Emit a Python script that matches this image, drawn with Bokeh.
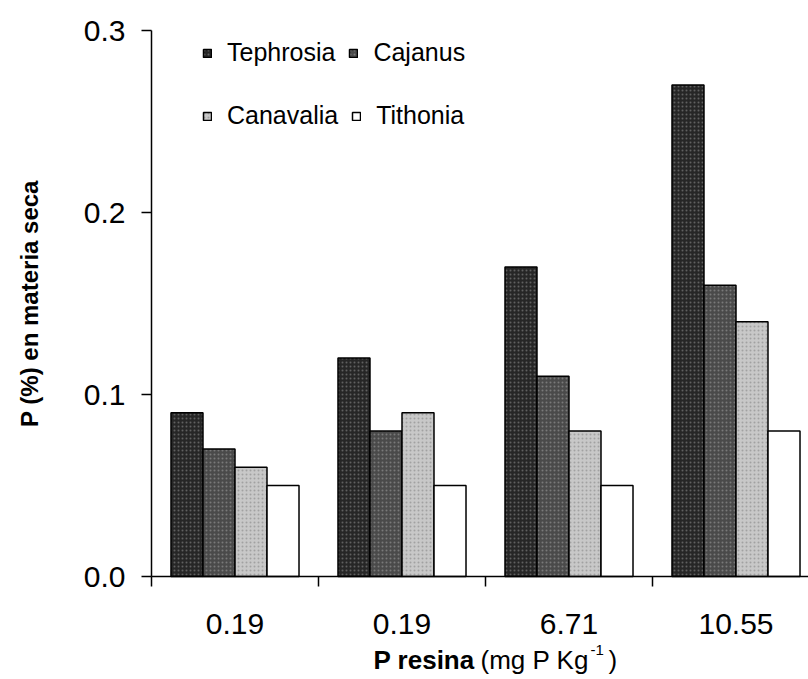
import math
from bokeh.plotting import figure
from bokeh.models import ColumnDataSource, Range1d, FixedTicker, Legend, LegendItem, Label
from bokeh.transform import dodge
from bokeh.embed import file_html
from bokeh.resources import INLINE

# ---- data ----
resina_labels = ["0.19", "0.19", "6.71", "10.55"]
tephrosia = [0.09, 0.12, 0.17, 0.27]
cajanus = [0.07, 0.08, 0.11, 0.16]
canavalia = [0.06, 0.09, 0.08, 0.14]
tithonia = [0.05, 0.05, 0.05, 0.08]
series_names = ["Tephrosia", "Cajanus", "Canavalia", "Tithonia"]
y_ticks = [0.0, 0.1, 0.2, 0.3]
y_tick_labels = ["0.0", "0.1", "0.2", "0.3"]

FONT = "Liberation Sans"
W, H = 808, 679

# screen layout (pixels): axis origin and scales
ORIG_X, ORIG_Y = 151, 576
PX_X = 167.0          # pixels per category
PX_Y = 546 / 0.3      # pixels per unit of P

def sx(px):  # screen x -> data x
    return (px - ORIG_X) / PX_X

def sy(py):  # screen y (from top) -> data y
    return (ORIG_Y - py) / PX_Y

X_END = sx(W)

xpos = [i + 0.5 for i in range(len(resina_labels))]
src = ColumnDataSource(dict(x=xpos, Tephrosia=tephrosia, Cajanus=cajanus,
                            Canavalia=canavalia, Tithonia=tithonia))

p = figure(width=W, height=H,
           x_range=Range1d(sx(0), sx(W)), y_range=Range1d(sy(H), sy(0)),
           output_backend="svg", toolbar_location=None,
           min_border=0, min_border_left=0, min_border_right=0,
           min_border_top=0, min_border_bottom=0)

p.grid.visible = False
p.outline_line_color = None
p.background_fill_color = "white"
p.border_fill_color = "white"

fills = ["#262626", "#4a4a4a", "#c8c8c8", "#ffffff"]
hatch_cols = ["#9a9a9a", "#a8a8a8", "#7a7a7a", None]
offsets = [-0.2875, -0.0958, 0.0958, 0.2875]
bw = 0.1916
renderers = []
for name, col, hc, off in zip(series_names, fills, hatch_cols, offsets):
    kw = {}
    if hc is not None:
        kw = dict(hatch_pattern="dot", hatch_color=hc, hatch_alpha=0.5,
                  hatch_scale=4, hatch_weight=1)
    r = p.vbar(x=dodge("x", off, range=p.x_range), top=name, width=bw, bottom=0,
               source=src, fill_color=col, line_color="black", line_width=1.5, **kw)
    renderers.append(r)

# x axis, drawn at y = 0
xa = p.xaxis[0]
xa.fixed_location = 0
xa.bounds = (0, X_END)
xa.ticker = FixedTicker(ticks=xpos, minor_ticks=[float(i) for i in range(len(resina_labels) + 1)])
xa.major_label_overrides = {xv: lab for xv, lab in zip(xpos, resina_labels)}
xa.major_tick_out = 0
xa.major_tick_in = 0
xa.minor_tick_out = 10
xa.minor_tick_in = 0
xa.major_label_standoff = 27
xa.major_label_text_font = FONT
xa.major_label_text_font_size = "30px"
xa.major_label_text_color = "black"
xa.axis_line_color = "black"
xa.axis_line_width = 1.5
xa.minor_tick_line_color = "black"
xa.minor_tick_line_width = 1.5

# y axis, drawn at x = 0
ya = p.yaxis[0]
ya.fixed_location = 0
ya.bounds = (0, 0.3)
ya.ticker = FixedTicker(ticks=y_ticks, minor_ticks=[])
ya.major_label_overrides = {t: s for t, s in zip(y_ticks, y_tick_labels)}
ya.major_tick_out = 10
ya.major_tick_in = 0
ya.minor_tick_out = 0
ya.minor_tick_in = 0
ya.major_label_standoff = 16
ya.major_label_text_font = FONT
ya.major_label_text_font_size = "30px"
ya.major_label_text_color = "black"
ya.axis_line_color = "black"
ya.axis_line_width = 1.5
ya.major_tick_line_color = "black"
ya.major_tick_line_width = 1.5

# y axis title
p.add_layout(Label(x=sx(29), y=sy(303), text="P (%) en materia seca", angle=math.pi / 2,
                   text_font=FONT, text_font_size="24px", text_font_style="bold",
                   text_color="black", text_align="center", text_baseline="middle"))

# x axis title made of pieces (bold + normal + superscript)
title_parts = [
    ("P resina", 373, 659, "26px", "bold"),
    ("(mg P Kg", 480, 659, "26px", "normal"),
    ("-1", 590, 649, "15px", "normal"),
    (")", 608, 659, "26px", "normal"),
]
for txt, tx, ty, fs, st in title_parts:
    p.add_layout(Label(x=sx(tx), y=sy(ty), text=txt, text_font=FONT, text_font_size=fs,
                       text_font_style=st, text_color="black",
                       text_baseline="alphabetic", text_align="left"))

# legends: two rows
def make_legend(items, loc):
    return Legend(items=items, location=loc, orientation="horizontal",
                  padding=0, margin=0, spacing=13, label_standoff=15,
                  glyph_width=10, glyph_height=10, label_height=20,
                  label_text_font=FONT, label_text_font_size="25px",
                  label_text_color="black",
                  border_line_color=None, background_fill_alpha=0)

leg1 = make_legend([LegendItem(label=series_names[0], renderers=[renderers[0]]),
                    LegendItem(label=series_names[1], renderers=[renderers[1]])], (202, H - 67))
leg2 = make_legend([LegendItem(label=series_names[2], renderers=[renderers[2]]),
                    LegendItem(label=series_names[3], renderers=[renderers[3]])], (202, H - 130))
p.add_layout(leg1)
p.add_layout(leg2)

open("out.html", "w").write(file_html(p, INLINE))
